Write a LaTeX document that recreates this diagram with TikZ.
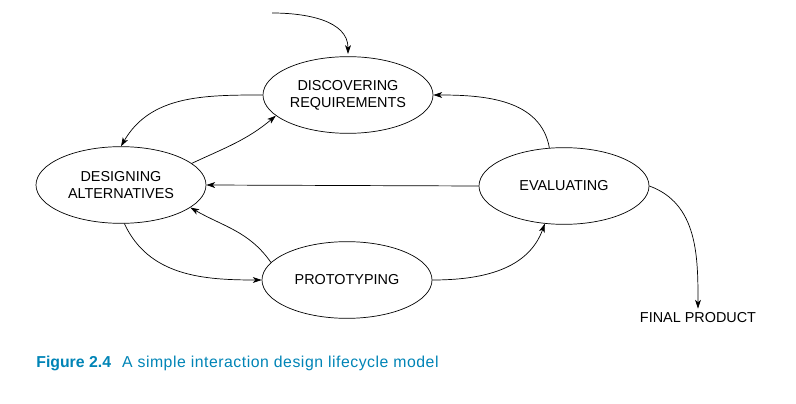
\documentclass[tikz,border=0pt]{standalone}
\usepackage{fontspec}
\setmainfont{Liberation Sans}
\usetikzlibrary{arrows.meta,shapes}
\tikzset{>={Stealth[length=7.5pt,width=5pt,inset=2pt]}}
\definecolor{capblue}{RGB}{0,132,182}

\begin{document}
\begin{tikzpicture}[x=0.03cm,y=-0.03cm,line width=0.6pt]

\tikzstyle{phase}=[draw,ellipse,inner sep=0pt,
                   minimum width=5.1cm,minimum height=2.3cm,
                   align=center,font=\fontsize{12.3}{14.5}\selectfont]
\tikzstyle{flow}=[->]

  \useasboundingbox (0,0) rectangle (796,404);

  \node[phase] (disc)  at (348,95)  {DISCOVERING\\ REQUIREMENTS};
  \node[phase] (des)   at (121,185) {DESIGNING\\ ALTERNATIVES};
  \node[phase] (eval)  at (564,186) {EVALUATING};
  \node[phase] (proto) at (347,280) {PROTOTYPING};
  \node[font=\fontsize{12.3}{14.5}\selectfont] (final) at (698,318) {FINAL PRODUCT};
  \coordinate (start) at (272,13);

  \draw[flow] (start) to[out=0,in=90] ([yshift=2pt]disc.north);
  \draw[flow] (disc.west) to[out=180,in=60] (des.north);
  \draw[flow] (des.17) to[out=25,in=220] (disc.196);
  \draw[flow] (eval.west) -- (des.east);
  \draw[flow] (eval.111) to[out=100,in=0] (disc.east);
  \draw[flow] (des.275) to[out=-65,in=180] (proto.west);
  \draw[flow] (proto.167) to[out=125,in=-30] (des.342);
  \draw[flow] (proto.east) to[out=0,in=250] (eval.243);
  \draw[flow] (eval.east) to[out=-20,in=90] (final.north);

  \node[anchor=base west,text=capblue,inner sep=0pt,
        font=\fontsize{13.5}{16}\selectfont] (cap) at (36,367)
       {\textbf{Figure 2.4}\hspace{0.7em}{\addfontfeature{LetterSpace=3.3}A simple interaction design lifecycle model}};

\end{tikzpicture}
\end{document}
